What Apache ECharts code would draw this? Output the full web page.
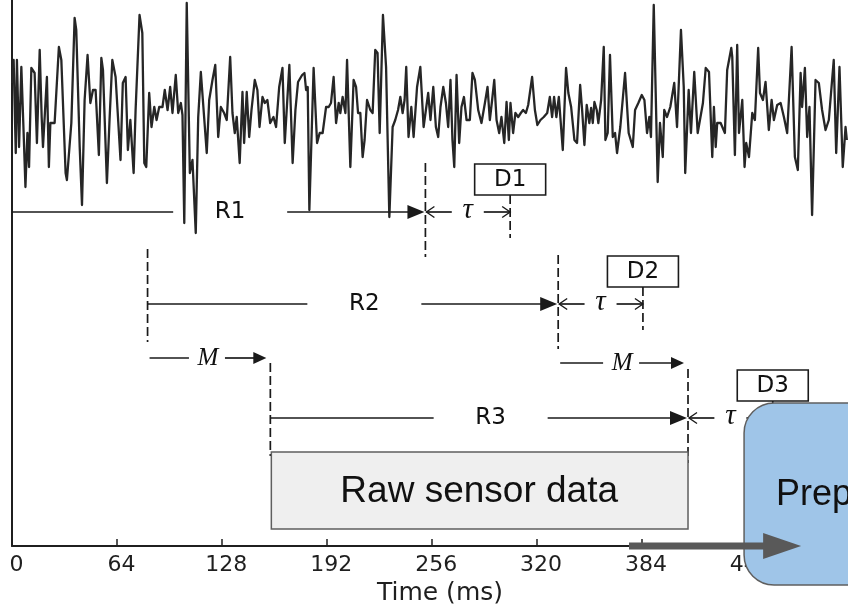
<!DOCTYPE html>
<html><head><meta charset="utf-8">
<script src="https://cdn.jsdelivr.net/npm/echarts@6/dist/echarts.min.js"></script>
<style>html,body{margin:0;padding:0;background:#fff}#c{width:848px;height:607px}</style>
</head><body><div id="c"></div>
<script>
// ---- data: raw sensor signal (time in ms, amplitude in arbitrary units) ----
const sigTime = [0.2,1.0,2.3,3.0,4.3,5.7,7.1,8.2,9.4,10.4,11.8,13.8,15.2,16.9,18.1,18.9,21.3,22.5,23.4,26.0,28.6,30.1,32.7,33.5,36.2,38.2,39.2,41.3,42.7,44.3,46.1,47.8,49.4,51.0,53.0,54.5,55.5,57.9,59.5,61.2,63.2,66.2,67.6,69.3,70.7,72.2,74.2,75.4,77.8,79.5,80.7,81.9,
83.7,85.1,86.8,88.2,89.8,91.8,93.2,94.9,96.5,97.9,99.9,101.4,103.0,104.0,105.1,106.6,108.5,110.1,112.1,113.6,115.2,117.2,118.8,120.3,122.3,124.0,125.8,127.4,129.4,131.0,133.1,134.5,135.9,137.1,138.9,140.6,141.6,143.2,144.7,146.1,148.1,149.7,151.0,152.8,154.2,155.8,157.5,159.5,161.1,163.0,165.0,166.4,
169.2,171.2,172.9,174.5,177.0,178.4,179.4,180.4,181.4,184.0,186.1,187.7,189.5,191.6,193.2,194.6,196.2,197.7,199.3,200.3,201.7,203.4,204.4,206.4,208.4,209.9,211.1,212.5,213.9,215.1,216.6,218.6,220.0,221.6,223.0,224.3,226.3,228.2,230.2,232.2,233.8,235.5,236.9,238.3,239.5,240.5,241.9,243.6,245.0,247.1,249.1,251.1,
252.5,253.9,255.3,257.0,258.6,260.0,261.4,263.1,264.7,266.1,267.5,268.7,269.8,271.2,272.8,274.2,275.7,277.3,279.3,280.9,282.4,284.4,286.4,288.5,290.1,291.5,292.9,294.2,295.6,297.2,298.6,300.3,301.7,303.1,304.1,305.7,307.1,308.8,310.4,311.8,313.5,314.9,315.9,317.3,319.0,320.5,322.4,324.4,326.5,328.1,329.5,330.7,332.1,333.6,
336.0,338.0,339.4,341.1,343.1,344.7,346.6,347.8,349.2,350.6,352.2,353.3,354.3,355.3,356.7,357.7,359.4,361.0,362.0,363.4,364.8,366.5,367.9,369.1,371.1,374.0,376.2,378.7,380.1,382.1,384.2,385.8,387.4,388.8,389.8,391.5,393.9,395.3,397.0,397.9,399.6,401.6,404.0,405.7,408.1,409.8,410.7,412.8,414.2,416.2,418.3,
421.5,423.2,425.2,427.2,428.2,429.3,430.2,432.3,434.9,436.3,438.8,439.4,441.0,442.4,443.5,445.5,446.9,447.9,449.6,451.6,453.2,455.2,456.3,458.1,459.7,461.7,463.4,464.8,466.8,468.9,470.9,472.9,475.6,477.6,479.4,481.1,482.0,483.7,485.1,486.5,488.1,490.2,492.2,494.2,496.3,498.3,501.3,502.8,504.8,506.8,508.5,509.3];
const sigAmp = [32,55,-38,55,-32,48,-18,-72,-18,-52,47,42,-28,65,-2,-32,38,-52,-8,-8,68,55,-58,-65,-8,97,85,-32,-90,15,60,12,25,25,-40,57,45,-68,-5,55,38,-45,32,38,-35,-5,-58,5,100,82,-48,-52,
22,-12,8,-5,8,8,25,5,28,2,40,2,12,0,-108,112,-58,-45,-118,-2,43,-2,-38,15,35,50,-22,8,2,-5,58,2,-18,-2,-48,23,-28,23,-22,5,35,25,-12,18,12,15,-8,-2,-12,28,47,-28,
50,-48,5,33,40,42,25,28,-95,47,-28,-18,-18,8,8,12,38,-8,12,2,18,2,55,-52,35,28,2,2,-42,-25,15,5,2,65,62,-18,100,48,-102,-12,-5,5,18,2,15,48,-22,8,-22,28,48,-12,
5,22,-5,28,-12,-22,8,28,12,-12,35,-25,-52,40,-28,8,18,-5,-5,42,35,5,-8,12,28,-5,15,35,-5,-18,-2,-28,13,-25,12,-18,2,-2,2,5,2,10,8,38,5,-10,-5,-2,2,18,-2,18,-2,18,
-35,47,22,8,-25,-28,30,5,-30,10,-8,7,-8,13,5,-8,15,68,-25,-18,60,-22,-18,-38,-12,42,-18,-32,5,12,20,15,-18,-2,-22,110,-67,-8,-42,5,-2,8,32,-12,85,28,-58,25,-18,43,-18,
12,47,43,-42,8,-32,-8,-8,-18,45,67,58,-40,70,-18,15,-52,-28,-42,2,-5,67,22,15,33,-15,15,-5,10,12,-2,-18,68,-42,-55,42,8,47,-22,8,-100,35,32,5,-15,-5,55,-38,48,-52,-12,-25];
const xTicks = [0,64,128,192,256,320,384,448];
// ---- data: analysis windows and decisions (ms) ----
const windowNames = ['R1','R2','R3'];
const windowStart = [0, 82.7, 157.6];
const windowEnd = [252.2, 333.2, 412.4];
const decisionNames = ['D1','D2','D3'];
const tauMs = 51.7;
const stepFrom = [82.7, 333.2];   // M arrows (window shift)
const stepTo = [157.6, 412.4];
const rawSpan = [157.6, 412.4];   // "Raw sensor data" = window R3

// ---- layout (not data) ----
const rowA = [-97, -189, -303];
const stepA = [-243, -248];
const rawA = [-337, -414];
const prepBox = {x0: 446.6, x1: 570, a0: -288, a1: -470};
const flowArrow = {x0: 376.4, x1: 481.4, a: -431};
const prepTextAt = [466.1, -380];

const chart = echarts.init(document.getElementById('c'), null, {renderer: 'canvas', width: 848, height: 607});
const AX = '#1f1f1f';
chart.setOption({
  animation: false,
  backgroundColor: '#ffffff',
  grid: {left: 12, right: 0, top: 0, bottom: 61, outerBoundsMode: 'none'},
  xAxis: {
    type: 'value', min: 0, max: 510, interval: 64,
    axisLine: {onZero: false, lineStyle: {color: AX, width: 2}},
    axisTick: {inside: true, length: 7, lineStyle: {color: AX, width: 1.5}},
    axisLabel: {showMaxLabel: false, color: AX, fontFamily: 'DejaVu Sans', fontSize: 22, margin: 8, padding: [0, 0, 0, 9],
      formatter: v => xTicks.includes(v) ? String(v) : ''},
    splitLine: {show: false},
    name: 'Time (ms)', nameLocation: 'middle', nameGap: 34,
    nameTextStyle: {color: AX, fontFamily: 'DejaVu Sans', fontSize: 25, padding: [0, 0, 0, 20]}
  },
  yAxis: {
    type: 'value', min: -431, max: 115,
    axisLine: {show: true, onZero: false, lineStyle: {color: AX, width: 2}},
    axisTick: {show: false}, axisLabel: {show: false}, splitLine: {show: false}
  },
  series: [{
    type: 'line', data: sigTime.map((t, i) => [t, sigAmp[i]]),
    showSymbol: false, symbol: 'none', clip: false, z: 3,
    lineStyle: {color: '#262626', width: 2.3, join: 'round'}
  }]
});

const P = (x, y) => chart.convertToPixel({gridIndex: 0}, [x, y]);
const G = [];
const INK = '#1a1a1a';
function line(x1, y1, x2, y2, dash) {
  G.push({type: 'line', z: 50, silent: true, shape: {x1, y1, x2, y2},
    style: {stroke: INK, lineWidth: 1.7, lineDash: dash ? [9, 4] : null}});
}
function head(x, y, len, half) {
  G.push({type: 'polygon', z: 50, silent: true, shape: {points: [[x, y], [x - len, y - half], [x - len, y + half]]}, style: {fill: INK}});
}
function chevron(x, y, dir) {
  G.push({type: 'polyline', z: 50, silent: true, shape: {points: [[x - dir * 8, y - 5.5], [x, y], [x - dir * 8, y + 5.5]]},
    style: {stroke: INK, lineWidth: 1.4, fill: null}});
}
function text(str, x, y, font, z, align) {
  G.push({type: 'text', z: z || 51, silent: true, style: {text: str, x, y, font, fill: '#111',
    align: align || 'center', verticalAlign: 'middle', textAlign: align || 'center', textVerticalAlign: 'middle'}});
}
const SANS = '23px "DejaVu Sans"';
const GREEK = 'italic 29px "Liberation Serif"';
const ITAL = 'italic 25px "Liberation Serif"';

windowNames.forEach((name, i) => {
  const [xs, y] = P(windowStart[i], rowA[i]);
  const [xe] = P(windowEnd[i], rowA[i]);
  const [xl] = P((windowStart[i] + windowEnd[i]) / 2 + 7, rowA[i]);
  line(xs, y, xl - 57, y);
  line(xl + 57, y, xe - 12, y);
  head(xe - 1, y, 17, 7);
  text(name, xl, y, SANS);
  line(xe, y - 49, xe, y + 45, true);
  if (i > 0) line(xs, y - 55, xs, y + 38, true);
  const [xd] = P(windowEnd[i] + tauMs, rowA[i]);
  const xm = (xe + xd) / 2;
  line(xe + 1, y, xm - 16, y);
  line(xm + 16, y, xd, y);
  chevron(xe + 1, y, -1);
  chevron(xd, y, 1);
  text('τ', xm, y - 2, GREEK);
  line(xd, y - 17, xd, y + 26, true);
  G.push({type: 'rect', z: 50, silent: true, shape: {x: xd - 35.5, y: y - 48, width: 71, height: 31},
    style: {fill: '#ffffff', stroke: INK, lineWidth: 1.6}});
  text(decisionNames[i], xd, y - 32, SANS);
});

stepFrom.forEach((f, k) => {
  const [x1, y] = P(f, stepA[k]);
  const [x2] = P(stepTo[k], stepA[k]);
  const a = x1 + 2, b = x2 - 4, m = (a + b) / 2;
  line(a, y, m - 19, y);
  line(m + 17, y, b - 12, y);
  head(b, y, 13, 6);
  text('M', m, y, ITAL);
});

// Raw sensor data box
{
  const [x0, y0] = P(rawSpan[0], rawA[0]);
  const [x1, y1] = P(rawSpan[1], rawA[1]);
  G.push({type: 'rect', z: 55, silent: true, shape: {x: x0 + 1, y: y0, width: x1 - x0 - 1, height: y1 - y0},
    style: {fill: '#efefef', stroke: '#5f5f5f', lineWidth: 1.5}});
  text('Raw sensor data', (x0 + x1) / 2, (y0 + y1) / 2 + 1, '37px "Liberation Sans"', 56);
}
// Preprocessing box
{
  const [x0, y0] = P(prepBox.x0, prepBox.a0);
  const [x1, y1] = P(prepBox.x1, prepBox.a1);
  G.push({type: 'rect', z: 60, silent: true, shape: {x: x0, y: y0, width: x1 - x0, height: y1 - y0, r: 30},
    style: {fill: '#9fc5e8', stroke: '#5f5f5f', lineWidth: 1.5}});
  const [tx, ty] = P(prepTextAt[0], prepTextAt[1]);
  text('Preprocessing', tx, ty, '36px "Liberation Sans"', 62, 'left');
}
// flow arrow
{
  const [x0, y] = P(flowArrow.x0, flowArrow.a);
  const [x1] = P(flowArrow.x1, flowArrow.a);
  G.push({type: 'line', z: 65, silent: true, shape: {x1: x0, y1: y, x2: x1 - 36, y2: y}, style: {stroke: '#595959', lineWidth: 7}});
  G.push({type: 'polygon', z: 65, silent: true, shape: {points: [[x1, y], [x1 - 38, y - 13], [x1 - 38, y + 13]]}, style: {fill: '#595959'}});
}
chart.setOption({graphic: {elements: G}});
</script></body></html>
